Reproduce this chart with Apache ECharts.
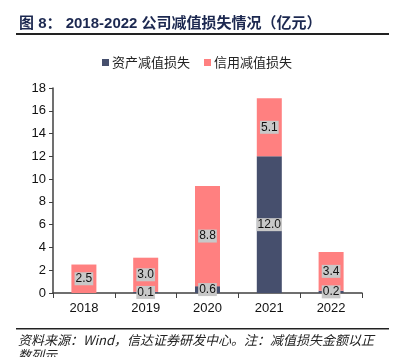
<!DOCTYPE html>
<html><head><meta charset="utf-8">
<script src="https://cdn.jsdelivr.net/npm/echarts@6/dist/echarts.min.js"></script>
<style>html,body{margin:0;padding:0;background:#fff}#c{width:394px;height:357px}</style>
</head><body><div id="c"></div>
<script>
const years = ['2018', '2019', '2020', '2021', '2022'];
const assetLoss = [0, 0.1, 0.6, 12.0, 0.2];
const creditLoss = [2.5, 3.0, 8.8, 5.1, 3.4];
const yTicks = [0, 2, 4, 6, 8, 10, 12, 14, 16, 18];

const chart = echarts.init(document.getElementById('c'));
const lbl = {
  show: true, position: 'inside', color: '#111', fontSize: 12,
  fontFamily: 'Liberation Sans, Arial, sans-serif',
  backgroundColor: '#c8c8c8', padding: [1, 1, 0, 1],
  formatter: p => p.value.toFixed(1)
};
chart.setOption({
  animation: false,
  textStyle: { fontFamily: 'Liberation Sans, Arial, "Noto Sans CJK SC", sans-serif' },
  legend: {
    top: 51, left: 'center', itemWidth: 7, itemHeight: 7, itemGap: 14,
    icon: 'rect',
    textStyle: { fontSize: 13, color: '#222', fontFamily: '"Noto Sans CJK SC", sans-serif', padding: [0, 0, 0, -2] },
    data: ['资产减值损失', '信用减值损失']
  },
  grid: { left: 53, right: 32, top: 88, bottom: 64 },
  xAxis: {
    type: 'category', data: years,
    axisLine: { lineStyle: { color: '#404040', width: 1.5 } },
    axisTick: { show: true, length: 5, lineStyle: { color: '#404040' } },
    axisLabel: { color: '#111', fontSize: 13, margin: 9 }
  },
  yAxis: {
    type: 'value', min: yTicks[0], max: yTicks[yTicks.length - 1], interval: 2,
    splitLine: { show: false },
    axisLine: { show: true, lineStyle: { color: '#404040', width: 1.5 } },
    axisTick: { show: true, length: 4, lineStyle: { color: '#404040' } },
    axisLabel: { color: '#111', fontSize: 13, margin: 7 }
  },
  series: [
    { name: '资产减值损失', type: 'bar', stack: 't', barWidth: 25,
      itemStyle: { color: '#464f6d' }, label: lbl,
      data: assetLoss.map(v => v === 0 ? null : v) },
    { name: '信用减值损失', type: 'bar', stack: 't', barWidth: 25,
      itemStyle: { color: '#ff8080' }, label: lbl,
      data: creditLoss }
  ],
  graphic: [
    { type: 'text', left: 19, top: 16, style: {
      text: '图 8： 2018-2022 公司减值损失情况（亿元）',
      font: 'bold 15px "Liberation Sans", "Noto Sans CJK SC", sans-serif', fill: '#1c2850' } },
    { type: 'rect', shape: { x: 16, y: 33, width: 373, height: 2 }, style: { fill: '#222' } },
    { type: 'rect', shape: { x: 16, y: 328, width: 373, height: 1.5 }, style: { fill: '#222' } },
    { type: 'text', left: 18, top: 333, style: {
      text: '资料来源：Wind，信达证券研发中心。注：减值损失金额以正\n数列示',
      font: 'italic 13px "Noto Sans CJK SC", sans-serif', fill: '#222', lineHeight: 15 } }
  ]
});
</script></body></html>
